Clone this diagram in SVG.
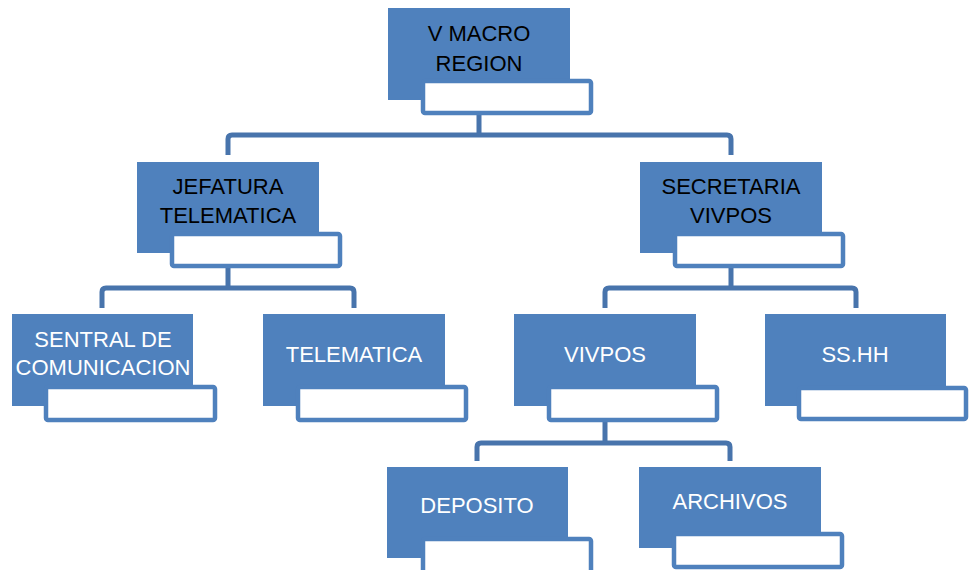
<svg xmlns="http://www.w3.org/2000/svg" width="969" height="570" viewBox="0 0 969 570">
<style>
.b{fill:#4F81BD}
.w{fill:#fff;stroke:#4F81BD;stroke-width:4.5}
.c{fill:none;stroke:#4874AC;stroke-width:5;stroke-linejoin:round}
text{font-family:"Liberation Sans",Arial,sans-serif;font-size:22px;text-anchor:middle}
.k{fill:#000}
.t{fill:#fff}
</style>
<rect width="969" height="570" fill="#fff"/>
<g id="connectors">
<path class="c" d="M479 113V135M228 155V139Q228 135 232 135H727Q731 135 731 139V155"/>
<path class="c" d="M228 268V288M102 308V292Q102 288 106 288H350Q354 288 354 292V308"/>
<path class="c" d="M731 268V288M605 308V292Q605 288 609 288H852Q856 288 856 292V308"/>
<path class="c" d="M605 421V443M477 461V447Q477 443 481 443H726Q730 443 730 447V461"/>
</g>
<g id="vmacro">
<rect class="b" x="388" y="8" width="182" height="92"/>
<rect class="w" x="423" y="81" width="168" height="32" rx="2"/>
<text class="k" x="479" y="41">V MACRO</text>
<text class="k" x="479" y="71">REGION</text>
</g>
<g id="jefatura">
<rect class="b" x="137" y="162" width="182" height="91"/>
<rect class="w" x="172" y="234" width="168" height="32" rx="2"/>
<text class="k" x="228" y="194">JEFATURA</text>
<text class="k" x="228" y="223">TELEMATICA</text>
</g>
<g id="secretaria">
<rect class="b" x="640" y="162" width="182" height="91"/>
<rect class="w" x="675" y="234" width="168" height="32" rx="2"/>
<text class="k" x="731" y="194">SECRETARIA</text>
<text class="k" x="731" y="223">VIVPOS</text>
</g>
<g id="sentral">
<rect class="b" x="12" y="314" width="181" height="92"/>
<rect class="w" x="46" y="387" width="169" height="33" rx="2"/>
<text class="t" x="103" y="347">SENTRAL DE</text>
<text class="t" x="103" y="375">COMUNICACION</text>
</g>
<g id="telematica">
<rect class="b" x="263" y="314" width="182" height="92"/>
<rect class="w" x="298" y="387" width="168" height="33" rx="2"/>
<text class="t" x="354" y="362">TELEMATICA</text>
</g>
<g id="vivpos">
<rect class="b" x="514" y="314" width="182" height="92"/>
<rect class="w" x="549" y="387" width="168" height="33" rx="2"/>
<text class="t" x="605" y="362">VIVPOS</text>
</g>
<g id="sshh">
<rect class="b" x="765" y="314" width="181" height="92"/>
<rect class="w" x="799" y="388" width="167" height="31" rx="2"/>
<text class="t" x="855" y="362">SS.HH</text>
</g>
<g id="deposito">
<rect class="b" x="387" y="467" width="181" height="91"/>
<rect class="w" x="423" y="539" width="168" height="34" rx="2"/>
<text class="t" x="477" y="513">DEPOSITO</text>
</g>
<g id="archivos">
<rect class="b" x="639" y="467" width="182" height="81"/>
<rect class="w" x="674" y="534" width="168" height="33" rx="2"/>
<text class="t" x="730" y="509">ARCHIVOS</text>
</g>
</svg>
